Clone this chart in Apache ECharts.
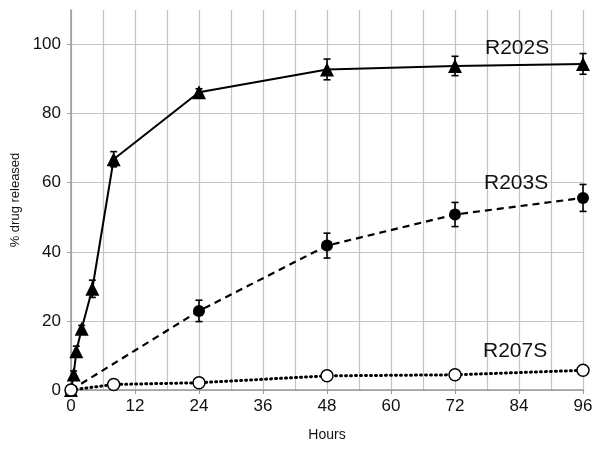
<!DOCTYPE html>
<html>
<head>
<meta charset="utf-8">
<script src="https://cdn.jsdelivr.net/npm/echarts@6/dist/echarts.min.js"></script>
<style>
  html, body { margin: 0; padding: 0; background: #fff; }
  #chart { width: 600px; height: 452px; }
</style>
</head>
<body>
<div id="chart"></div>
<script>
// hours and % drug released
const r202Hours = [0, 0.5, 1, 2, 4, 8, 24, 48, 72, 96]
const r202Values = [0, 4.5, 11.2, 17.7, 29.3, 66.8, 86.2, 92.8, 93.8, 94.4]
const r202Err = [0, 1, 1.5, 1, 2.5, 2.2, 1, 3, 2.8, 3]

const r203Hours = [0, 24, 48, 72, 96]
const r203Values = [0, 22.9, 41.8, 50.8, 55.6]
const r203Err = [0, 3.1, 3.6, 3.5, 3.9]

const r207Hours = [0, 8, 24, 48, 72, 96]
const r207Values = [0, 1.6, 2.1, 4.1, 4.4, 5.7]

const xTicks = [0, 12, 24, 36, 48, 60, 72, 84, 96]
const yTicks = [0, 20, 40, 60, 80, 100]

const font = 'Liberation Sans, Arial, sans-serif'
const pairs = (xs, ys) => xs.map((x, i) => [x, ys[i]])
const errData = (xs, ys, es) => xs.map((x, i) => [x, ys[i] - es[i], ys[i] + es[i]]).filter((d, i) => es[i] > 0)

// vertical error bar with small caps
const errRender = (params, api) => {
  const x = api.value(0)
  const top = api.coord([x, api.value(2)])
  const bot = api.coord([x, api.value(1)])
  const w = 3.5
  const st = { stroke: '#000', lineWidth: 1.6 }
  return {
    type: 'group',
    children: [
      { type: 'line', shape: { x1: top[0], y1: top[1], x2: bot[0], y2: bot[1] }, style: st },
      { type: 'line', shape: { x1: top[0] - w, y1: top[1], x2: top[0] + w, y2: top[1] }, style: st },
      { type: 'line', shape: { x1: bot[0] - w, y1: bot[1], x2: bot[0] + w, y2: bot[1] }, style: st },
    ],
  }
}

const chart = echarts.init(document.getElementById('chart'), null, { renderer: 'canvas' })

chart.setOption({
  animation: false,
  grid: { left: 71, right: 17, top: 10, bottom: 62 },
  xAxis: {
    type: 'value',
    min: 0,
    max: 96,
    interval: 12,
    name: 'Hours',
    nameLocation: 'middle',
    nameGap: 38,
    nameTextStyle: { fontFamily: font, fontSize: 14, color: '#111' },
    axisLine: { show: true, lineStyle: { color: '#999', width: 1.5 } },
    axisTick: { show: true, length: 4, lineStyle: { color: '#999' } },
    axisLabel: {
      fontFamily: font, fontSize: 17, color: '#111', margin: 8,
      formatter: v => xTicks.includes(v) ? String(v) : '',
    },
    splitLine: { show: true, lineStyle: { color: '#c4c4c4', width: 1.2 } },
    minorTick: { show: false, splitNumber: 2 },
    minorSplitLine: { show: true, lineStyle: { color: '#c4c4c4', width: 1.2 } },
  },
  yAxis: {
    type: 'value',
    min: 0,
    max: 110,
    interval: 20,
    name: '% drug released',
    nameLocation: 'middle',
    nameGap: 48,
    nameTextStyle: { fontFamily: font, fontSize: 13, color: '#111' },
    axisLine: { show: true, lineStyle: { color: '#999', width: 1.5 } },
    axisTick: { show: true, length: 4, lineStyle: { color: '#999' } },
    axisLabel: {
      fontFamily: font, fontSize: 17, color: '#111', margin: 10, showMaxLabel: false,
      formatter: v => yTicks.includes(v) ? String(v) : '',
    },
    splitLine: { show: true, showMaxLine: false, lineStyle: { color: '#c4c4c4', width: 1.2 } },
  },
  graphic: [
    { type: 'text', z: 100, left: 485, top: 38, style: { text: 'R202S', font: '21px ' + font, fill: '#111' } },
    { type: 'text', z: 100, left: 484, top: 173, style: { text: 'R203S', font: '21px ' + font, fill: '#111' } },
    { type: 'text', z: 100, left: 483, top: 341, style: { text: 'R207S', font: '21px ' + font, fill: '#111' } },
  ],
  series: [
    {
      type: 'custom', renderItem: errRender, z: 3,
      encode: { x: 0, y: [1, 2] },
      data: errData(r202Hours, r202Values, r202Err),
    },
    {
      type: 'custom', renderItem: errRender, z: 3,
      encode: { x: 0, y: [1, 2] },
      data: errData(r203Hours, r203Values, r203Err),
    },
    {
      name: 'R202S', type: 'line', z: 4,
      data: pairs(r202Hours, r202Values),
      symbol: 'triangle', symbolSize: 14,
      itemStyle: { color: '#000' },
      lineStyle: { color: '#000', width: 2 },
    },
    {
      name: 'R203S', type: 'line', z: 4,
      data: pairs(r203Hours, r203Values),
      symbol: 'circle', symbolSize: 12,
      itemStyle: { color: '#000' },
      lineStyle: { color: '#000', width: 2.2, type: [7, 5] },
    },
    {
      name: 'R207S', type: 'line', z: 5,
      data: pairs(r207Hours, r207Values),
      symbol: 'circle', symbolSize: 12,
      itemStyle: { color: '#fff', borderColor: '#000', borderWidth: 1.5 },
      lineStyle: { color: '#000', width: 3, type: [1, 4], cap: 'round' },
    },
  ],
})
</script>
</body>
</html>
